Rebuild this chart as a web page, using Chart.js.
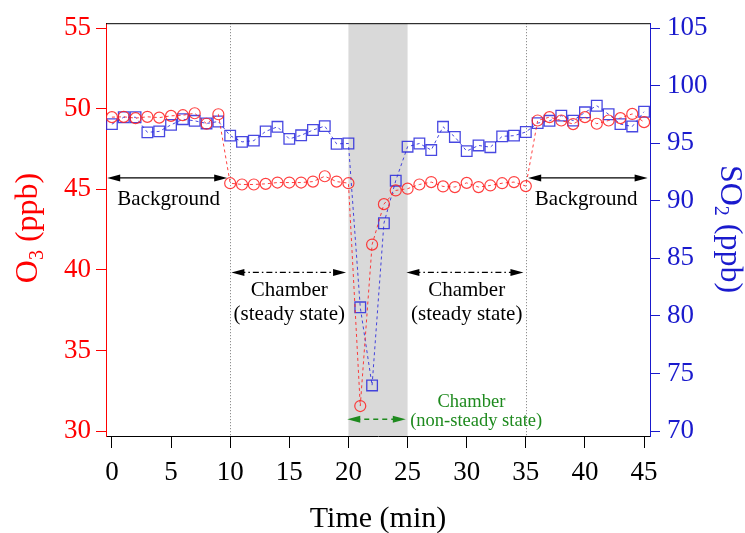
<!DOCTYPE html>
<html>
<head>
<meta charset="utf-8">
<script src="https://cdn.jsdelivr.net/npm/chart.js@4.4.0/dist/chart.umd.min.js"></script>
<style>
  html, body { margin: 0; padding: 0; background: #fff; }
  canvas { display: block; }
</style>
</head>
<body>
<canvas id="canvas" width="745" height="533"></canvas>
<script>
const times = [0,1,2,3,4,5,6,7,8,9,10,11,12,13,14,15,16,17,18,19,20,21,22,23,24,25,26,27,28,29,30,31,32,33,34,35,36,37,38,39,40,41,42,43,44,45];
const o3Values = [49.48,49.50,49.42,49.50,49.45,49.56,49.60,49.72,49.07,49.66,
  45.38,45.30,45.30,45.34,45.42,45.42,45.42,45.48,45.81,45.48,45.38,
  31.55,41.57,44.08,
  44.93,45.04,45.30,45.45,45.18,45.14,45.40,45.14,45.24,45.38,45.45,45.20,
  49.27,49.48,49.27,49.05,49.48,49.07,49.27,49.42,49.68,49.17];
const so2Values = [96.66,97.26,97.26,95.95,96.03,96.60,97.09,96.95,96.72,96.89,
  95.66,95.12,95.23,96.03,96.43,95.38,95.69,96.15,96.49,94.95,94.98,
  80.75,73.96,88.05,
  91.75,94.70,94.98,94.41,96.43,95.55,94.32,94.81,94.66,95.60,95.66,95.98,
  96.75,96.95,97.40,96.97,97.69,98.26,97.52,96.66,96.46,97.74];
const xTicks = [0,5,10,15,20,25,30,35,40,45];
const o3Ticks = [30,35,40,45,50,55];
const so2Ticks = [70,75,80,85,90,95,100,105];

const serif = '"Liberation Serif", "Times New Roman", serif';
const RED = '#ff0000';
const BLUE = '#1a1acd';
const GREEN = '#1e8a1e';

const ctx = document.getElementById('canvas');

function arrow(c, x1, x2, y, color, dash) {
  c.save();
  c.strokeStyle = color; c.fillStyle = color; c.lineWidth = 1.3;
  c.setLineDash(dash);
  c.beginPath(); c.moveTo(x1 + 8, y); c.lineTo(x2 - 8, y); c.stroke();
  c.setLineDash([]);
  [[x1, 1], [x2, -1]].forEach(([x, d]) => {
    c.beginPath();
    c.moveTo(x, y); c.lineTo(x + d * 13, y - 3.5); c.lineTo(x + d * 13, y + 3.5);
    c.closePath(); c.fill();
  });
  c.restore();
}

// axis title with a subscript, e.g. O3 / SO2
function subLabel(c, main, sub, rest, x, y, rot, color, size) {
  c.save();
  c.translate(x, y); c.rotate(rot);
  c.fillStyle = color; c.textBaseline = 'middle'; c.textAlign = 'left';
  const big = size + 'px ' + serif, small = Math.round(size * 0.62) + 'px ' + serif;
  c.font = big; const w1 = c.measureText(main).width, w3 = c.measureText(rest).width;
  c.font = small; const w2 = c.measureText(sub).width;
  let sx = -(w1 + w2 + w3) / 2;
  c.font = big; c.fillText(main, sx, 0); sx += w1;
  c.font = small; c.fillText(sub, sx, size * 0.28); sx += w2;
  c.font = big; c.fillText(rest, sx, 0);
  c.restore();
}

const decor = {
  id: 'decor',
  beforeDatasetsDraw(chart) {
    const c = chart.ctx, a = chart.chartArea, x = chart.scales.x;
    c.save();
    c.fillStyle = '#d9d9d9';
    c.fillRect(x.getPixelForValue(20), a.top, x.getPixelForValue(25) - x.getPixelForValue(20), a.bottom - a.top);
    c.strokeStyle = '#777'; c.lineWidth = 1; c.setLineDash([1, 2]);
    [10, 35].forEach(v => {
      const px = Math.round(x.getPixelForValue(v)) + 0.5;
      c.beginPath(); c.moveTo(px, a.top); c.lineTo(px, a.bottom); c.stroke();
    });
    c.restore();
  },
  afterDraw(chart) {
    const c = chart.ctx, a = chart.chartArea, x = chart.scales.x, y = chart.scales.y;
    const X = v => x.getPixelForValue(v), Y = v => y.getPixelForValue(v);
    c.save();
    c.strokeStyle = '#000'; c.lineWidth = 1;
    c.beginPath(); c.moveTo(a.left, a.top + 0.5); c.lineTo(a.right, a.top + 0.5); c.stroke();

    arrow(c, X(-0.4), X(9.75), Y(45.71), '#000', []);
    arrow(c, X(35.2), X(45.3), Y(45.71), '#000', []);
    arrow(c, X(10.1), X(19.8), Y(39.84), '#000', [6, 3, 1.5, 3]);
    arrow(c, X(24.9), X(34.8), Y(39.84), '#000', [6, 3, 1.5, 3]);
    arrow(c, X(19.9), X(24.85), Y(30.73), GREEN, [5, 4]);

    c.textAlign = 'center'; c.textBaseline = 'middle';
    c.fillStyle = '#000'; c.font = '21px ' + serif;
    c.fillText('Background', X(4.8), Y(44.36));
    c.fillText('Background', X(40.1), Y(44.36));
    c.fillText('Chamber', X(15), Y(38.74));
    c.fillText('(steady state)', X(15), Y(37.21));
    c.fillText('Chamber', X(30), Y(38.74));
    c.fillText('(steady state)', X(30), Y(37.21));
    c.fillStyle = GREEN; c.font = '18.5px ' + serif;
    c.fillText('Chamber', X(30.4), Y(31.77));
    c.fillText('(non-steady state)', X(30.8), Y(30.61));

    c.fillStyle = '#000'; c.font = '30px ' + serif;
    c.fillText('Time (min)', (a.left + a.right) / 2, 519);
    c.restore();

    subLabel(c, 'O', '3', ' (ppb)', 29, 228, -Math.PI / 2, RED, 32);
    subLabel(c, 'SO', '2', ' (ppb)', 729, 229, Math.PI / 2, BLUE, 32);
  }
};

new Chart(ctx, {
  type: 'scatter',
  data: {
    datasets: [{
      label: 'O3',
      data: times.map((t, i) => ({ x: t, y: o3Values[i] })),
      yAxisID: 'y',
      showLine: true,
      borderColor: 'rgba(255,30,30,0.85)',
      borderWidth: 1,
      borderDash: [3, 3],
      pointStyle: 'circle',
      pointRadius: 5.5,
      pointBorderWidth: 1.2,
      pointBorderColor: 'rgba(255,30,30,0.85)',
      pointBackgroundColor: 'rgba(0,0,0,0)'
    }, {
      label: 'SO2',
      data: times.map((t, i) => ({ x: t, y: so2Values[i] })),
      yAxisID: 'y2',
      showLine: true,
      borderColor: 'rgba(40,40,220,0.85)',
      borderWidth: 1,
      borderDash: [3, 3],
      pointStyle: 'rect',
      pointRadius: 7.5,
      pointBorderWidth: 1.3,
      pointBorderColor: 'rgba(40,40,220,0.85)',
      pointBackgroundColor: 'rgba(0,0,0,0)'
    }]
  },
  options: {
    responsive: false,
    animation: false,
    layout: { padding: { top: 17, left: 0, right: 0, bottom: 0 } },
    plugins: { legend: { display: false }, tooltip: { enabled: false } },
    scales: {
      x: {
        type: 'linear', min: -0.5, max: 45.5,
        afterBuildTicks: s => { s.ticks = xTicks.map(v => ({ value: v })); },
        afterFit: s => { s.height = 97; },
        border: { color: '#000', width: 1 },
        grid: { drawOnChartArea: false, tickLength: 12, tickColor: '#000' },
        ticks: { color: '#000', padding: 9, font: { family: serif, size: 27 } }
      },
      y: {
        position: 'left', min: 29.69, max: 55.31,
        afterBuildTicks: s => { s.ticks = o3Ticks.map(v => ({ value: v })); },
        afterFit: s => { s.width = 106; },
        border: { color: RED, width: 1 },
        grid: { drawOnChartArea: false, tickLength: 10, tickColor: RED },
        ticks: { color: RED, padding: 5, font: { family: serif, size: 27 } }
      },
      y2: {
        position: 'right', min: 69.57, max: 105.43,
        afterBuildTicks: s => { s.ticks = so2Ticks.map(v => ({ value: v })); },
        afterFit: s => { s.width = 95; },
        border: { color: BLUE, width: 1 },
        grid: { drawOnChartArea: false, tickLength: 10, tickColor: BLUE },
        ticks: { color: BLUE, padding: 7, font: { family: serif, size: 27 } }
      }
    }
  },
  plugins: [decor]
});
</script>
</body>
</html>
